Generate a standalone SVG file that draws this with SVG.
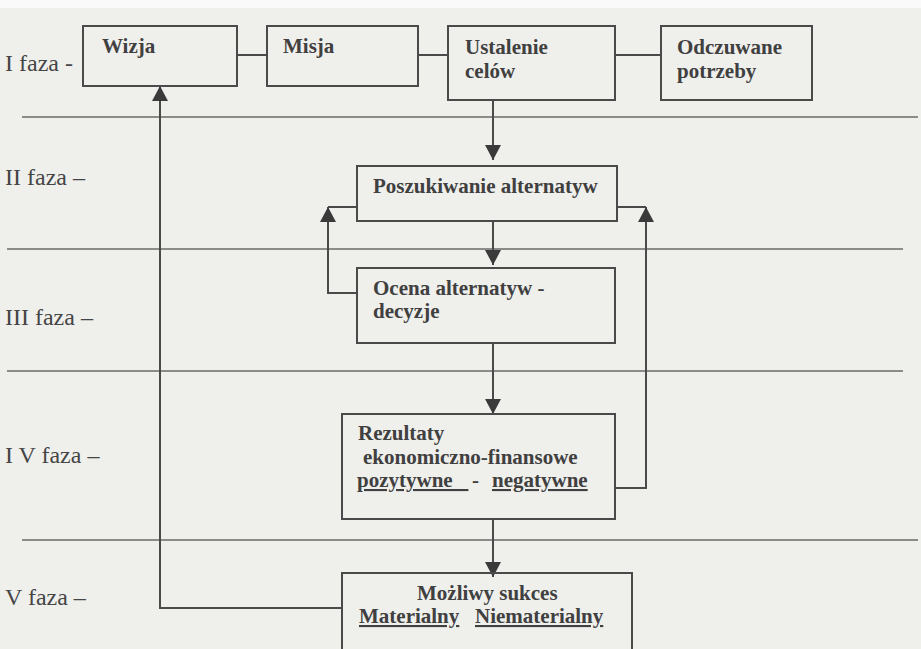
<svg xmlns="http://www.w3.org/2000/svg" width="921" height="649" viewBox="0 0 921 649">
<defs>
<style>
.bg{fill:#efefec}
.box{fill:none;stroke:#4a4a4a;stroke-width:2}
.ln{fill:none;stroke:#4a4a4a;stroke-width:2}
.sep{fill:none;stroke:#6a6a6a;stroke-width:1.6}
.t{font-family:"Liberation Serif","Times New Roman",serif;font-weight:bold;font-size:21px;fill:#404040}
.ph{font-family:"Liberation Serif","Times New Roman",serif;font-size:24px;fill:#454545}
.u{text-decoration:underline}
</style>
<marker id="ah" markerUnits="userSpaceOnUse" markerWidth="16" markerHeight="16" viewBox="0 0 16 16" refX="15" refY="8" orient="auto">
<path d="M0,0 L15,8 L0,16 Z" fill="#3a3a3a"/>
</marker>
</defs>
<rect class="bg" x="0" y="0" width="921" height="649"/>
<rect x="0" y="0" width="921" height="8" fill="#fafafa"/>

<g id="phases">
<line class="sep" x1="22" y1="117" x2="918" y2="117"/>
<line class="sep" x1="7" y1="249" x2="903" y2="249"/>
<line class="sep" x1="7" y1="371" x2="903" y2="371"/>
<line class="sep" x1="22" y1="540" x2="918" y2="540"/>
<text class="ph" x="5" y="71">I faza -</text>
<text class="ph" x="5" y="185">II faza –</text>
<text class="ph" x="5" y="325">III faza –</text>
<text class="ph" x="5" y="463">I V faza –</text>
<text class="ph" x="5" y="605">V faza –</text>
</g>

<g id="connectors">
<line class="ln" x1="237" y1="55" x2="267" y2="55"/>
<line class="ln" x1="418" y1="55" x2="448" y2="55"/>
<line class="ln" x1="615" y1="55" x2="661" y2="55"/>
<path class="ln" d="M493,100 V160" marker-end="url(#ah)"/>
<path class="ln" d="M493,221 V265" marker-end="url(#ah)"/>
<path class="ln" d="M493,343 V414" marker-end="url(#ah)"/>
<path class="ln" d="M493,519 V577" marker-end="url(#ah)"/>
<path class="ln" d="M357,293 H328 V207" marker-end="url(#ah)"/>
<line class="ln" x1="328" y1="207" x2="357" y2="207"/>
<path class="ln" d="M615,488 H646 V207" marker-end="url(#ah)"/>
<line class="ln" x1="617" y1="207" x2="646" y2="207"/>
<path class="ln" d="M342,608 H160 V86" marker-end="url(#ah)"/>
</g>

<g id="wizja">
<rect class="box" x="83" y="26" width="154" height="60"/>
<text class="t" x="102" y="53">Wizja</text>
</g>
<g id="misja">
<rect class="box" x="267" y="26" width="151" height="60"/>
<text class="t" x="283" y="53">Misja</text>
</g>
<g id="ustalenie">
<rect class="box" x="448" y="26" width="167" height="74"/>
<text class="t" x="465" y="54">Ustalenie</text>
<text class="t" x="465" y="78">celów</text>
</g>
<g id="odczuwane">
<rect class="box" x="661" y="26" width="151" height="74"/>
<text class="t" x="677" y="54">Odczuwane</text>
<text class="t" x="677" y="78">potrzeby</text>
</g>
<g id="poszukiwanie">
<rect class="box" x="357" y="166" width="260" height="55"/>
<text class="t" x="373" y="193">Poszukiwanie alternatyw</text>
</g>
<g id="ocena">
<rect class="box" x="357" y="268" width="258" height="75"/>
<text class="t" x="373" y="295">Ocena alternatyw -</text>
<text class="t" x="373" y="318">decyzje</text>
</g>
<g id="rezultaty">
<rect class="box" x="342" y="414" width="273" height="105"/>
<text class="t" x="358" y="440">Rezultaty</text>
<text class="t" x="363" y="463.5">ekonomiczno-finansowe</text>
<text class="t" x="357" y="487"><tspan class="u" xml:space="preserve">pozytywne   </tspan><tspan x="472">-</tspan><tspan class="u" x="492">negatywne</tspan></text>
</g>
<g id="mozliwy">
<path class="box" d="M342,660 V573 H632 V660"/>
<text class="t" x="417" y="600">Możliwy sukces</text>
<text class="t" x="359" y="623"><tspan class="u">Materialny</tspan><tspan class="u" x="475">Niematerialny</tspan></text>
</g>
</svg>
